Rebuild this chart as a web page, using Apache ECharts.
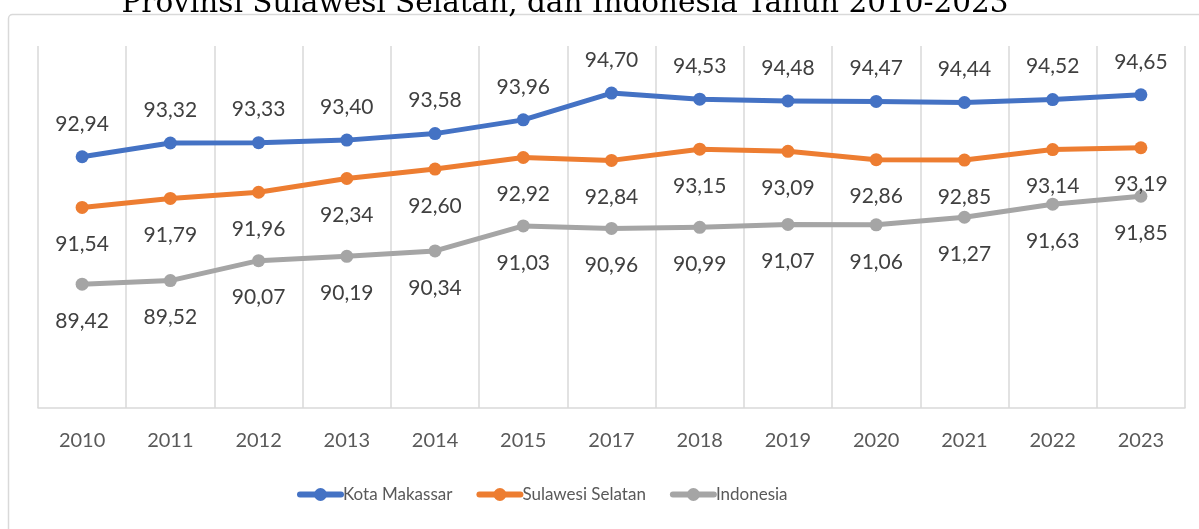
<!DOCTYPE html>
<html>
<head>
<meta charset="utf-8">
<script src="https://cdn.jsdelivr.net/npm/echarts@6/dist/echarts.min.js"></script>
<style>
  html, body { margin: 0; padding: 0; background: #ffffff; }
  #chart { width: 1199px; height: 529px; }
</style>
</head>
<body>
<div id="chart"></div>
<script>
// Years on the category axis
const years = ['2010', '2011', '2012', '2013', '2014', '2015', '2017', '2018', '2019', '2020', '2021', '2022', '2023'];

// Series values per region
const kotaMakassar = [92.94, 93.32, 93.33, 93.40, 93.58, 93.96, 94.70, 94.53, 94.48, 94.47, 94.44, 94.52, 94.65];
const sulawesiSelatan = [91.54, 91.79, 91.96, 92.34, 92.60, 92.92, 92.84, 93.15, 93.09, 92.86, 92.85, 93.14, 93.19];
const indonesia = [89.42, 89.52, 90.07, 90.19, 90.34, 91.03, 90.96, 90.99, 91.07, 91.06, 91.27, 91.63, 91.85];

const seriesNames = ['Kota Makassar', 'Sulawesi Selatan', 'Indonesia'];
const titleText = 'Provinsi Sulawesi Selatan, dan Indonesia Tahun 2010-2023';

const FONT = 'Lato, "Open Sans", sans-serif';

const chart = echarts.init(document.getElementById('chart'), null, { renderer: 'canvas' });

// Values are shown with a decimal comma
const fmt = p => p.value.toFixed(2).replace('.', ',');

function lineSeries(name, data, color, labelPos, labelDist) {
  return {
    name: name,
    type: 'line',
    data: data,
    symbol: 'circle',
    symbolSize: 13,
    lineStyle: { width: 5, color: color, cap: 'round', join: 'round' },
    itemStyle: { color: color },
    label: {
      show: true,
      position: labelPos,
      distance: labelDist,
      formatter: fmt,
      color: '#404040',
      fontFamily: FONT,
      fontSize: 21
    },
    emphasis: { disabled: true },
    animation: false
  };
}

chart.setOption({
  animation: false,
  graphic: [
    {
      type: 'rect',
      shape: { x: 8.5, y: 14.5, width: 1300, height: 700, r: 4 },
      style: { fill: 'none', stroke: '#d9d9d9', lineWidth: 1.5 },
      silent: true,
      z: -10
    },
    {
      type: 'text',
      style: {
        text: titleText,
        x: 565,
        y: 19,
        textAlign: 'center',
        textVerticalAlign: 'bottom',
        fontFamily: '"DejaVu Serif", serif',
        fontSize: 29.5,
        fill: '#000000'
      },
      silent: true
    }
  ],
  legend: {
    data: seriesNames,
    top: 486,
    left: 297,
    padding: 0,
    itemWidth: 41,
    itemHeight: 16,
    itemGap: 24,
    lineStyle: { width: 6 },
    textStyle: { color: '#595959', fontFamily: FONT, fontSize: 17, padding: [0, 0, 0, -3] }
  },
  grid: { left: 38, right: 14, top: 46, bottom: 121 },
  xAxis: {
    type: 'category',
    data: years,
    boundaryGap: true,
    axisLine: { show: true, lineStyle: { color: '#d9d9d9', width: 1.5 } },
    axisTick: { show: false },
    splitLine: { show: true, interval: 0, lineStyle: { color: '#d9d9d9', width: 1.5 } },
    axisLabel: { color: '#595959', fontFamily: FONT, fontSize: 20, margin: 23, interval: 0 }
  },
  yAxis: {
    type: 'value',
    min: 86,
    max: 96,
    interval: 2,
    show: false,
    splitLine: { show: false }
  },
  series: [
    lineSeries(seriesNames[0], kotaMakassar, '#4472C4', 'top', 16),
    lineSeries(seriesNames[1], sulawesiSelatan, '#ED7D31', 'bottom', 20),
    lineSeries(seriesNames[2], indonesia, '#A5A5A5', 'bottom', 20)
  ]
});
</script>
</body>
</html>
